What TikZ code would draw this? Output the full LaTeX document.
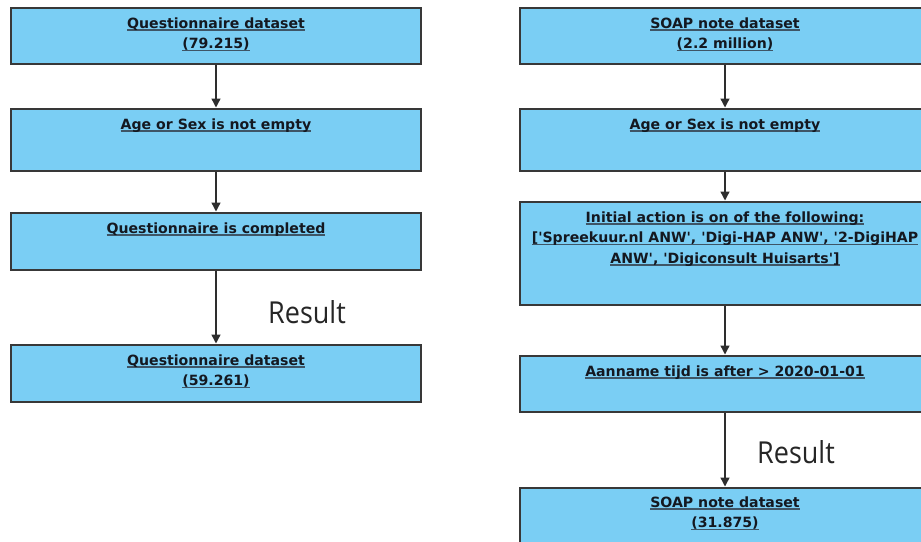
\documentclass[tikz,border=0pt]{standalone}
\usepackage{fontspec}
\usepackage{graphicx}
\usetikzlibrary{arrows.meta,calc}
\newfontfamily\boxfont{DejaVu Sans}[BoldFont={DejaVu Sans Bold}]
\newfontfamily\resfont{Open Sans}
\definecolor{boxfill}{HTML}{7ACEF4}
\definecolor{boxedge}{HTML}{383838}
\definecolor{ulcol}{HTML}{3E5566}
\definecolor{txtcol}{HTML}{141820}
\definecolor{arrcol}{HTML}{2E2E2E}
% underlined label line
\newcommand\undl[1]{\setbox0\hbox{#1}\rlap{\color{ulcol}\rule[-2.6pt]{\wd0}{1.3pt}}\box0}
\tikzset{
  stepbox/.style={draw=boxedge, line width=1.8pt, fill=boxfill, rectangle,
    minimum width=410pt, inner sep=0pt},
  % base anchor of a multi-line label sits on its last line
  boxlabel/.style={anchor=base, align=center, text=txtcol, inner sep=0pt,
    font={\boxfont\bfseries\fontsize{14.1}{20.5}\selectfont}},
  arr/.style={draw=arrcol, line width=1.4pt,
    -{Triangle[width=9pt,length=9pt]}, shorten >=0.6pt},
  reslabel/.style={anchor=base west, inner sep=0pt, text=black!85,
    font={\resfont\fontsize{27}{30}\selectfont}}
}
\begin{document}
\begin{tikzpicture}[x=1pt,y=-1pt]
\useasboundingbox[fill=white] (0,0) rectangle (921,541);
\begin{scope}
\clip (0,0) rectangle (921,541);

% questionnaire pipeline
\node[stepbox, minimum height=56pt] (L1) at (216,36) {};
\node[stepbox, minimum height=62pt] (L2) at (216,140) {};
\node[stepbox, minimum height=57pt] (L3) at (216,241.5) {};
\node[stepbox, minimum height=57pt] (L4) at (216,373.5) {};

\node[boxlabel] (L1t) at ($(L1.north)+(0,41.5)$) {\undl{Questionnaire dataset}\\\undl{(79.215)}};
\node[boxlabel] (L2t) at ($(L2.north)+(0,21)$) {\undl{Age or Sex is not empty}};
\node[boxlabel] (L3t) at ($(L3.north)+(0,21)$) {\undl{Questionnaire is completed}};
\node[boxlabel] (L4t) at ($(L4.north)+(0,41.5)$) {\undl{Questionnaire dataset}\\\undl{(59.261)}};

\draw[arr] (L1.south) -- (L2.north);
\draw[arr] (L2.south) -- (L3.north);
\draw[arr] (L3.south) -- (L4.north);
\node[reslabel] (resL) at (268,323) {\scalebox{1}[1.12]{Result}};

% SOAP note pipeline
\node[stepbox, minimum height=56pt] (R1) at (725,36) {};
\node[stepbox, minimum height=62pt] (R2) at (725,140) {};
\node[stepbox, minimum height=103pt] (R3) at (725,253.5) {};
\node[stepbox, minimum height=56pt] (R4) at (725,384) {};
\node[stepbox, minimum height=62pt] (R5) at (725,519) {};

\node[boxlabel] (R1t) at ($(R1.north)+(0,41.5)$) {\undl{SOAP note dataset}\\\undl{(2.2 million)}};
\node[boxlabel] (R2t) at ($(R2.north)+(0,21)$) {\undl{Age or Sex is not empty}};
\node[boxlabel] (R3t) at ($(R3.north)+(0,62)$) {\undl{Initial action is on of the following:}\\\undl{['Spreekuur.nl ANW', 'Digi-HAP ANW', '2-DigiHAP}\\\undl{ANW', 'Digiconsult Huisarts']}};
\node[boxlabel] (R4t) at ($(R4.north)+(0,21)$) {\undl{Aanname tijd is after > 2020-01-01}};
\node[boxlabel] (R5t) at ($(R5.north)+(0,40.5)$) {\undl{SOAP note dataset}\\\undl{(31.875)}};

\draw[arr] (R1.south) -- (R2.north);
\draw[arr] (R2.south) -- (R3.north);
\draw[arr] (R3.south) -- (R4.north);
\draw[arr] (R4.south) -- (R5.north);
\node[reslabel] (resR) at (757,463) {\scalebox{1}[1.12]{Result}};
\end{scope}
\end{tikzpicture}
\end{document}
